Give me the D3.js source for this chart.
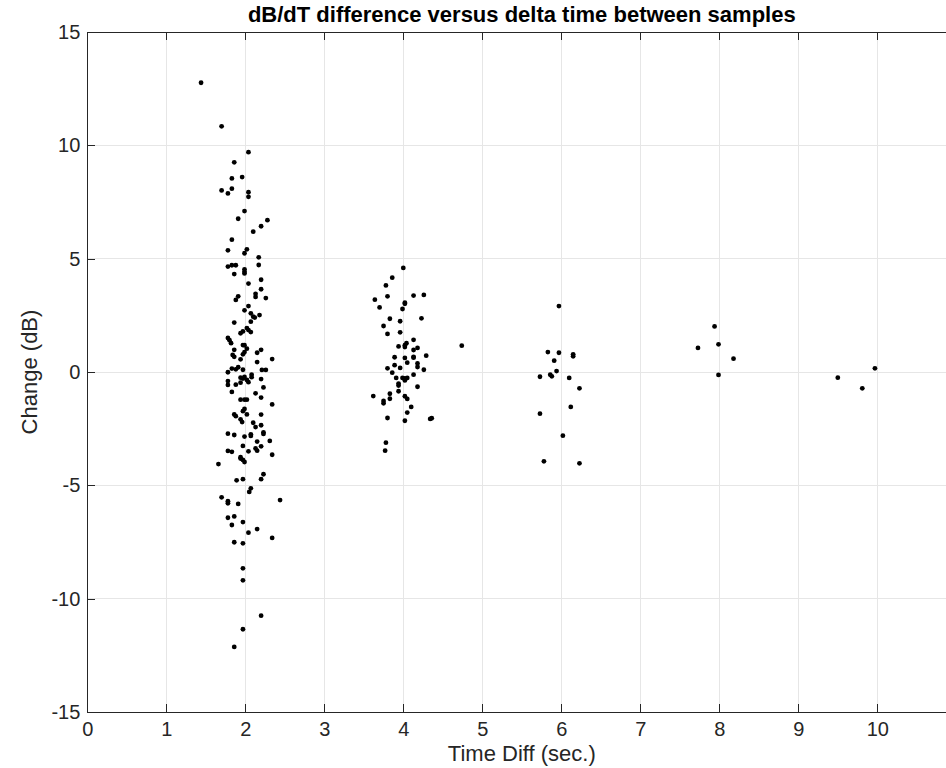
<!DOCTYPE html>
<html>
<head>
<meta charset="utf-8">
<script src="https://cdn.jsdelivr.net/npm/d3@7"></script>
<style>
    body { margin: 0; background: #fff; }
    svg { display: block; font-family: "Liberation Sans", Arial, Helvetica, sans-serif; }
</style>
</head>
<body>
<div id="chart"></div>
<script>
// Time difference between samples (sec.)
const timeDiff = [
    1.44, 1.70, 2.04, 1.86, 1.83, 1.96, 1.70, 1.78, 1.83, 2.04, 2.04, 1.99, 1.91, 2.28, 2.20, 2.10, 1.83, 1.78, 2.02, 1.99, 2.17,
    2.17, 1.78, 1.83, 1.88, 1.99, 1.99, 1.99, 1.86, 2.20, 2.04, 2.20, 2.13, 2.13, 2.26, 1.91, 1.88, 2.04, 1.99, 2.07, 2.10,
    2.12, 2.18, 2.07, 1.86, 2.02, 2.04, 2.07, 1.97, 1.94, 1.78, 1.80, 1.82, 1.97, 1.99, 1.86, 2.02, 2.20, 2.15, 1.99, 1.97,
    1.84, 1.86, 1.94, 2.34, 2.15, 1.91, 1.83, 1.88, 1.97, 2.21, 2.26, 1.78, 2.08, 2.08, 1.94, 1.97, 1.99, 2.02, 2.20, 1.78,
    1.78, 1.88, 1.94, 2.04, 2.23,
    1.83, 2.13, 2.20, 1.94, 1.99, 2.02, 2.34, 1.99, 1.97, 1.86, 1.88, 2.02, 2.20, 1.94, 1.96, 2.10, 2.13, 2.20, 2.23, 2.23,
    1.78, 1.86, 2.07, 2.07, 1.99, 2.31, 2.15, 1.97, 2.20, 2.13, 2.15, 2.04, 1.78, 1.83, 2.34, 1.94, 1.97, 1.99, 1.94, 1.66,
    2.23, 2.20, 1.89, 1.97, 2.07, 2.05, 1.70, 1.78, 1.78, 2.44, 1.91, 1.78, 1.86,
    1.83, 1.97, 2.15, 2.04, 2.34, 1.86, 1.97, 1.97, 1.97, 2.20, 1.97, 1.86,
    4.00, 3.86, 3.78, 3.80, 4.13, 4.26, 3.64, 4.02, 4.02, 3.70, 3.99, 3.83, 3.96, 4.23, 3.75, 3.96, 3.80, 4.13, 4.04, 4.02,
    4.02, 3.94, 4.74, 4.18, 4.13, 4.29, 3.89, 4.02, 4.13, 4.13, 4.05, 4.18, 4.18, 3.89, 3.80, 3.96, 4.26, 3.86, 4.13, 3.91,
    3.99, 4.02, 4.05, 4.02, 3.94, 3.94, 4.18, 3.94, 3.83, 3.62, 4.02, 4.05, 3.83, 3.75, 3.75, 4.10, 4.05, 3.80, 4.02, 4.34,
    4.36, 3.78, 3.77,
    5.97, 5.83, 5.97, 6.15, 6.15, 5.91, 5.94, 5.73, 5.86, 5.88, 6.10, 6.23, 6.12, 5.73, 6.02, 5.78, 6.23,
    7.94, 7.73, 7.99, 8.18, 7.99,
    9.97, 9.50, 9.81
];

// Change in dB between samples
const changeDb = [
    12.76, 10.84, 9.70, 9.25, 8.54, 8.60, 8.01, 7.88, 8.09, 7.93, 7.73, 7.10, 6.76, 6.70, 6.43, 6.19, 5.84, 5.37, 5.41, 5.24, 5.06,
    4.72, 4.65, 4.71, 4.71, 4.53, 4.42, 4.35, 4.32, 4.07, 3.90, 3.65, 3.45, 3.31, 3.26, 3.34, 3.18, 2.91, 2.72, 2.59, 2.44,
    2.40, 2.51, 2.22, 2.18, 1.94, 1.85, 1.76, 1.79, 1.71, 1.50, 1.40, 1.27, 1.19, 1.18, 0.98, 1.03, 0.98, 0.85, 0.88, 0.78,
    0.75, 0.67, 0.56, 0.57, 0.44, 0.21, 0.15, 0.12, 0.10, 0.09, 0.09, -0.01, -0.12, -0.23, -0.25, -0.29, -0.22, -0.35, -0.31, -0.40,
    -0.57, -0.56, -0.47, -0.45, -0.68,
    -0.88, -0.94, -1.13, -1.22, -1.22, -1.22, -1.43, -1.63, -1.73, -1.87, -1.95, -1.87, -1.88, -2.09, -2.21, -2.24, -2.43, -2.35, -2.66, -2.73,
    -2.72, -2.78, -2.75, -2.82, -2.85, -3.04, -3.07, -3.26, -3.28, -3.37, -3.47, -3.50, -3.48, -3.52, -3.65, -3.76, -3.88, -3.97, -3.82, -4.06,
    -4.51, -4.73, -4.78, -4.73, -5.13, -5.29, -5.53, -5.70, -5.79, -5.65, -5.82, -6.43, -6.37,
    -6.75, -6.62, -6.93, -7.09, -7.32, -7.51, -7.56, -8.66, -9.19, -10.75, -11.35, -12.13,
    4.59, 4.16, 3.82, 3.34, 3.37, 3.40, 3.19, 3.06, 3.01, 2.85, 2.78, 2.35, 2.24, 2.37, 2.03, 1.75, 1.68, 1.42, 1.27, 1.18,
    1.10, 1.13, 1.16, 1.06, 0.97, 0.72, 0.65, 0.62, 0.67, 0.63, 0.41, 0.38, 0.22, 0.30, 0.16, 0.18, 0.10, -0.03, -0.12, -0.26,
    -0.26, -0.37, -0.26, -0.28, -0.51, -0.60, -0.65, -0.85, -0.96, -1.06, -1.07, -1.19, -1.18, -1.28, -1.38, -1.54, -1.79, -2.03, -2.15, -2.07,
    -2.04, -3.12, -3.47,
    2.91, 0.88, 0.85, 0.78, 0.69, 0.50, 0.04, -0.21, -0.12, -0.19, -0.26, -0.72, -1.54, -1.84, -2.81, -3.94, -4.03,
    2.01, 1.06, 1.22, 0.59, -0.13,
    0.16, -0.25, -0.72
];

const xTicks = [0, 1, 2, 3, 4, 5, 6, 7, 8, 9, 10];
const yTicks = [-15, -10, -5, 0, 5, 10, 15];
const xDomain = [0, 11];
const yDomain = [-15, 15];

const chartTitle = "dB/dT difference versus delta time between samples";
const xLabel = "Time Diff (sec.)";
const yLabel = "Change (dB)";

// Figure size and plot box (box runs past the right edge like the original)
const fullWidth = 946, fullHeight = 768;
const margin = { top: 32, left: 87.3 };
const plotWidth = 79 * 11;
const plotHeight = 680;

const axisColor = "#262626";
const gridColor = "#e6e6e6";
const tickLen = 8;

const svg = d3.select("#chart").append("svg")
    .attr("width", fullWidth)
    .attr("height", fullHeight);

const g = svg.append("g")
    .attr("transform", `translate(${margin.left}, ${margin.top})`);

const x = d3.scaleLinear().domain(xDomain).range([0, plotWidth]);
const y = d3.scaleLinear().domain(yDomain).range([plotHeight, 0]);

// Grid lines
g.append("g").attr("class", "grid-x")
    .selectAll("line")
    .data(xTicks)
    .enter().append("line")
    .attr("x1", d => x(d)).attr("x2", d => x(d))
    .attr("y1", 0).attr("y2", plotHeight)
    .attr("stroke", gridColor)
    .attr("stroke-width", 1)
    .attr("shape-rendering", "crispEdges");

g.append("g").attr("class", "grid-y")
    .selectAll("line")
    .data(yTicks)
    .enter().append("line")
    .attr("x1", 0).attr("x2", plotWidth)
    .attr("y1", d => y(d)).attr("y2", d => y(d))
    .attr("stroke", gridColor)
    .attr("stroke-width", 1)
    .attr("shape-rendering", "crispEdges");

// Axes with inward ticks (MATLAB style), plain hyphen for negatives
const plainFormat = d => String(d);

const styleAxis = sel => {
    sel.select(".domain").attr("stroke", axisColor).attr("stroke-width", 1);
    sel.selectAll(".tick line").attr("stroke", axisColor);
    sel.selectAll(".tick text")
        .attr("fill", axisColor)
        .style("font-size", "20px")
        .style("font-family", "'Liberation Sans', Arial, Helvetica, sans-serif");
    sel.attr("shape-rendering", "crispEdges");
};

g.append("g")
    .attr("transform", `translate(0, ${plotHeight})`)
    .call(d3.axisBottom(x).tickValues(xTicks).tickFormat(plainFormat)
        .tickSizeInner(-tickLen).tickSizeOuter(0).tickPadding(10))
    .call(styleAxis);

g.append("g")
    .call(d3.axisTop(x).tickValues(xTicks).tickFormat("")
        .tickSizeInner(-tickLen).tickSizeOuter(0))
    .call(styleAxis);

g.append("g")
    .call(d3.axisLeft(y).tickValues(yTicks).tickFormat(plainFormat)
        .tickSizeInner(-tickLen).tickSizeOuter(0).tickPadding(7))
    .call(styleAxis);

g.append("g")
    .attr("transform", `translate(${plotWidth}, 0)`)
    .call(d3.axisRight(y).tickValues(yTicks).tickFormat("")
        .tickSizeInner(-tickLen).tickSizeOuter(0))
    .call(styleAxis);

// Scatter points
const points = timeDiff.map((t, i) => ({ t: t, c: changeDb[i] }));

g.append("g").attr("class", "points")
    .selectAll("circle")
    .data(points)
    .enter().append("circle")
    .attr("cx", d => x(d.t))
    .attr("cy", d => y(d.c))
    .attr("r", 2.4)
    .attr("fill", "#000");

// Title and axis labels
svg.append("text")
    .attr("x", margin.left + plotWidth / 2)
    .attr("y", 22)
    .attr("text-anchor", "middle")
    .attr("fill", "#000")
    .style("font-size", "22px")
    .style("font-weight", "bold")
    .text(chartTitle);

svg.append("text")
    .attr("x", margin.left + plotWidth / 2)
    .attr("y", 761)
    .attr("text-anchor", "middle")
    .attr("fill", axisColor)
    .style("font-size", "22px")
    .text(xLabel);

svg.append("text")
    .attr("transform", `translate(37, ${margin.top + plotHeight / 2}) rotate(-90)`)
    .attr("text-anchor", "middle")
    .attr("fill", axisColor)
    .style("font-size", "22px")
    .text(yLabel);
</script>
</body>
</html>
